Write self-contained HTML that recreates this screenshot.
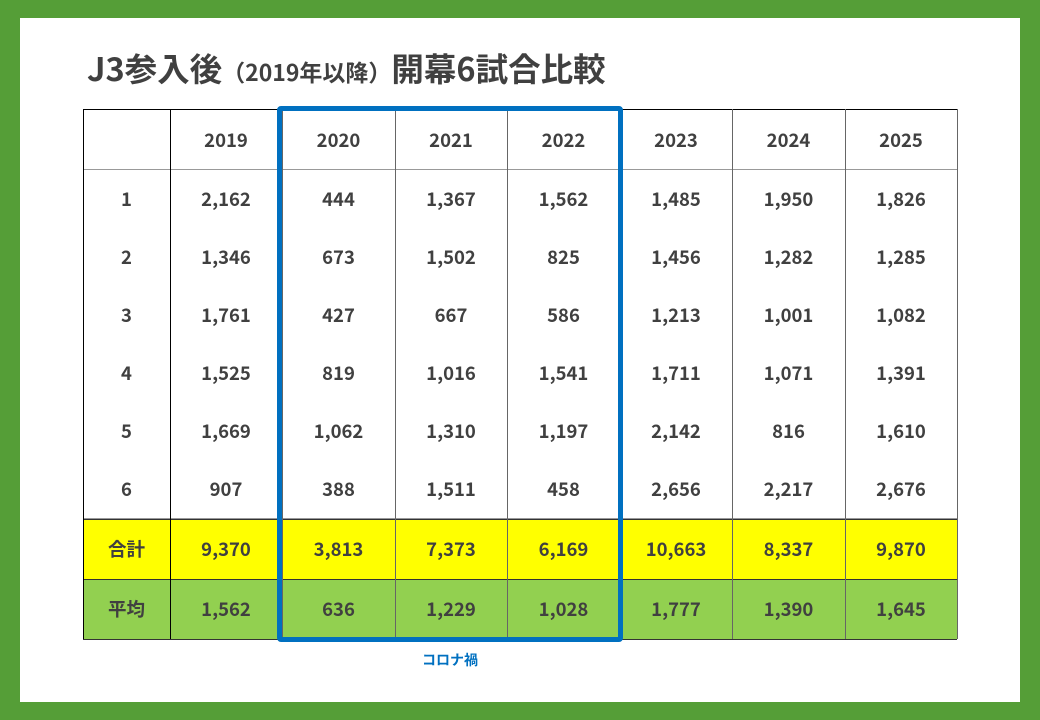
<!DOCTYPE html><html><head><meta charset="utf-8"><style>
body{margin:0;width:1040px;height:720px;background:#559e37;position:relative;overflow:hidden;font-family:"Liberation Sans","Noto Sans CJK JP",sans-serif;font-weight:bold;color:#404040}
.in{position:absolute;left:20px;top:18px;width:1000px;height:684px;background:#fff}
.c{position:absolute;display:flex;align-items:center;justify-content:center;font-family:"Noto Sans CJK JP",sans-serif;font-size:18.5px;font-weight:bold}
.h{position:absolute;height:1px}
.v{position:absolute;width:1px}
</style></head><body><div class="in"></div>
<div style="position:absolute;left:87px;top:44px;font-family:'Noto Sans CJK JP',sans-serif;font-weight:bold;font-size:32.5px;color:#404040;white-space:nowrap;line-height:48px">J3参入後<span style="font-size:23px">（2019年以降）</span>開幕6試合比較</div>
<div id="t"></div>
<div style="position:absolute;left:277px;top:106px;width:336px;height:526px;border:5px solid #0070c0;border-radius:4px"></div>
<div style="position:absolute;left:380px;top:650px;width:140px;text-align:center;font-family:'Noto Sans CJK JP',sans-serif;font-size:14px;color:#0070c0;font-weight:bold">コロナ禍</div>
<script>
var X=[83,170,282,395,507,620,732,845,957],Y=[109,170,228,286,344,402,460,518,579,639];
var d=[["","2019","2020","2021","2022","2023","2024","2025"],
["1","2,162","444","1,367","1,562","1,485","1,950","1,826"],
["2","1,346","673","1,502","825","1,456","1,282","1,285"],
["3","1,761","427","667","586","1,213","1,001","1,082"],
["4","1,525","819","1,016","1,541","1,711","1,071","1,391"],
["5","1,669","1,062","1,310","1,197","2,142","816","1,610"],
["6","907","388","1,511","458","2,656","2,217","2,676"],
["合計","9,370","3,813","7,373","6,169","10,663","8,337","9,870"],
["平均","1,562","636","1,229","1,028","1,777","1,390","1,645"]];
var h="";
h+='<div style="position:absolute;left:83px;top:518px;width:874px;height:61px;background:#ffff00"></div>';
h+='<div style="position:absolute;left:83px;top:579px;width:874px;height:60px;background:#92d050"></div>';
for(var r=0;r<9;r++)for(var c=0;c<8;c++)h+='<div class="c" style="left:'+X[c]+'px;top:'+Y[r]+'px;width:'+(X[c+1]-X[c])+'px;height:'+(Y[r+1]-Y[r])+'px">'+d[r][c]+'</div>';
[[109,'#000'],[169,'#999'],[518,'#999'],[519,'#333'],[579,'#333'],[639,'#333']].forEach(function(a){h+='<div class="h" style="left:83px;width:874px;top:'+a[0]+'px;background:'+a[1]+'"></div>'});
X.forEach(function(x,i){h+='<div class="v" style="left:'+x+'px;top:109px;height:530px;background:'+(i<2?'#000':'#666')+'"></div>'});
document.getElementById('t').innerHTML=h;
</script></body></html>
